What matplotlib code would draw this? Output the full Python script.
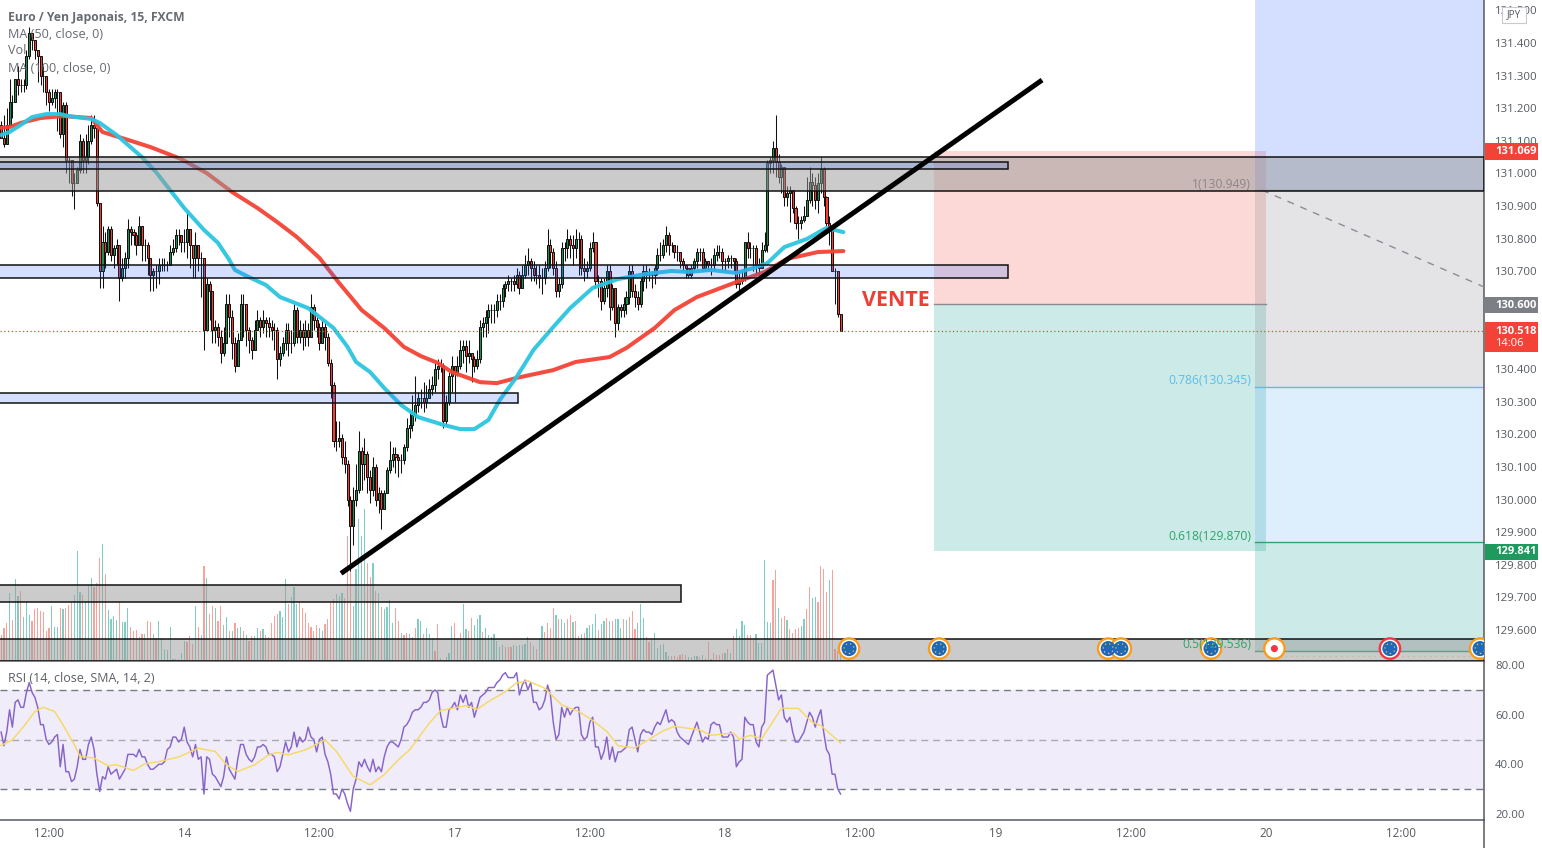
import matplotlib
matplotlib.use("Agg")
import matplotlib.pyplot as plt
from matplotlib.patches import Rectangle

plt.rcParams['font.family'] = ['Open Sans', 'Noto Sans', 'DejaVu Sans']

close_prices = [
 131.11,131.09,131.15,131.22,131.22,131.29,131.27,131.27,131.27,131.36,
 131.43,131.41,131.38,131.36,131.30,131.30,131.25,131.22,131.23,131.25,
 131.25,131.12,131.21,131.04,131.04,130.97,130.97,131.01,131.10,131.04,
 131.05,131.10,131.15,131.14,130.91,130.70,130.79,130.76,130.83,130.75,
 130.77,130.78,130.68,130.71,130.74,130.83,130.82,130.81,130.78,130.84,
 130.78,130.78,130.74,130.69,130.70,130.70,130.72,130.72,130.72,130.72,
 130.76,130.77,130.81,130.81,130.79,130.79,130.83,130.78,130.74,130.78,
 130.74,130.74,130.52,130.66,130.64,130.52,130.53,130.50,130.45,130.48,
 130.60,130.56,130.48,130.41,130.49,130.60,130.60,130.52,130.49,130.46,
 130.52,130.55,130.53,130.55,130.54,130.53,130.52,130.52,130.43,130.45,
 130.48,130.52,130.48,130.48,130.58,130.50,130.52,130.50,130.52,130.50,
 130.59,130.55,130.53,130.48,130.53,130.50,130.42,130.35,130.18,130.18,
 130.19,130.13,130.11,130.00,129.92,130.00,130.03,130.15,130.11,130.14,
 130.07,130.03,130.10,130.00,130.02,129.97,130.02,130.09,130.12,130.14,
 130.13,130.12,130.12,130.16,130.22,130.23,130.26,130.29,130.31,130.31,
 130.30,130.31,130.34,130.35,130.40,130.41,130.41,130.24,130.30,130.38,
 130.41,130.39,130.41,130.46,130.47,130.44,130.45,130.43,130.41,130.43,
 130.53,130.54,130.56,130.58,130.58,130.58,130.61,130.61,130.65,130.66,
 130.67,130.67,130.66,130.69,130.65,130.69,130.72,130.73,130.71,130.69,
 130.69,130.68,130.68,130.71,130.78,130.76,130.71,130.64,130.66,130.77,
 130.77,130.80,130.78,130.77,130.80,130.80,130.71,130.70,130.71,130.77,
 130.79,130.67,130.67,130.61,130.65,130.70,130.59,130.65,130.54,130.59,
 130.58,130.60,130.62,130.70,130.64,130.62,130.60,130.67,130.70,130.69,
 130.69,130.69,130.71,130.75,130.75,130.78,130.81,130.78,130.78,130.76,
 130.76,130.73,130.72,130.71,130.69,130.71,130.73,130.76,130.76,130.71,
 130.73,130.72,130.72,130.75,130.76,130.76,130.73,130.73,130.74,130.74,
 130.73,130.66,130.67,130.68,130.79,130.77,130.77,130.77,130.72,130.71,
 130.765,130.78,131.033,131.04,131.077,131.036,130.99,131.02,130.927,130.94,
 130.95,130.893,130.849,130.849,130.857,130.87,130.92,130.975,130.965,130.92,
 130.97,131.015,130.927,130.847,130.826,130.70,130.70,130.57,130.518]

high_prices = [
 131.16,131.18,131.20,131.29,131.24,131.29,131.33,131.29,131.29,131.38,
 131.45,131.43,131.39,131.37,131.31,131.33,131.28,131.26,131.26,131.26,
 131.26,131.25,131.22,131.22,131.05,131.04,131.00,131.02,131.12,131.11,
 131.12,131.15,131.18,131.18,131.14,130.91,130.84,130.82,130.84,130.84,
 130.78,130.80,130.78,130.74,130.76,130.86,130.84,130.83,130.82,130.87,
 130.84,130.80,130.79,130.74,130.71,130.72,130.74,130.74,130.74,130.73,
 130.78,130.80,130.83,130.83,130.81,130.83,130.88,130.83,130.78,130.82,
 130.78,130.76,130.73,130.68,130.67,130.64,130.55,130.54,130.52,130.53,
 130.63,130.63,130.58,130.50,130.51,130.63,130.63,130.60,130.53,130.50,
 130.55,130.58,130.56,130.58,130.56,130.56,130.55,130.54,130.53,130.47,
 130.50,130.54,130.54,130.52,130.60,130.59,130.55,130.54,130.55,130.54,
 130.63,130.60,130.56,130.54,130.55,130.54,130.51,130.43,130.36,130.24,
 130.24,130.20,130.18,130.12,130.01,130.04,130.11,130.21,130.16,130.19,
 130.15,130.09,130.13,130.11,130.04,130.03,130.03,130.10,130.18,130.16,
 130.16,130.14,130.14,130.17,130.25,130.27,130.32,130.38,130.33,130.34,
 130.36,130.35,130.37,130.38,130.42,130.43,130.43,130.42,130.32,130.39,
 130.44,130.41,130.44,130.49,130.49,130.49,130.49,130.45,130.44,130.46,
 130.55,130.56,130.58,130.60,130.60,130.60,130.63,130.63,130.66,130.67,
 130.69,130.68,130.69,130.71,130.70,130.72,130.75,130.77,130.74,130.73,
 130.72,130.72,130.71,130.73,130.83,130.80,130.77,130.73,130.68,130.79,
 130.79,130.83,130.81,130.81,130.83,130.82,130.81,130.74,130.73,130.79,
 130.82,130.79,130.69,130.68,130.68,130.72,130.72,130.66,130.65,130.60,
 130.60,130.62,130.64,130.72,130.72,130.66,130.64,130.68,130.72,130.72,
 130.71,130.70,130.72,130.77,130.79,130.80,130.84,130.82,130.79,130.78,
 130.78,130.76,130.74,130.72,130.71,130.72,130.74,130.77,130.77,130.77,
 130.74,130.73,130.74,130.77,130.78,130.78,130.77,130.74,130.75,130.75,
 130.74,130.74,130.70,130.70,130.79,130.82,130.79,130.78,130.78,130.74,
 130.79,130.82,131.04,131.05,131.10,131.18,131.06,131.03,131.02,130.96,
 130.96,130.95,130.90,130.87,130.87,130.90,130.99,131.02,131.00,130.99,
 131.00,131.05,131.02,130.93,130.87,130.84,130.71,130.70,130.57]

low_prices = [
 131.11,131.08,131.11,131.15,131.17,131.22,131.24,131.25,131.25,131.26,
 131.35,131.38,131.35,131.28,131.27,131.25,131.21,131.19,131.21,131.20,
 131.13,131.11,131.08,131.00,130.97,130.93,130.89,130.98,131.00,131.00,
 131.00,131.03,131.09,131.11,130.90,130.65,130.65,130.71,130.75,130.73,
 130.71,130.72,130.61,130.67,130.68,130.71,130.78,130.78,130.75,130.78,
 130.73,130.73,130.69,130.64,130.64,130.65,130.66,130.70,130.70,130.70,
 130.74,130.75,130.76,130.78,130.76,130.76,130.74,130.71,130.68,130.68,
 130.70,130.62,130.46,130.58,130.55,130.48,130.48,130.47,130.42,130.44,
 130.53,130.50,130.43,130.39,130.42,130.52,130.50,130.47,130.45,130.43,
 130.50,130.52,130.50,130.51,130.50,130.50,130.49,130.46,130.37,130.41,
 130.44,130.46,130.44,130.45,130.47,130.48,130.48,130.46,130.47,130.47,
 130.50,130.52,130.50,130.46,130.50,130.46,130.41,130.31,130.16,130.15,
 130.16,130.11,130.08,129.98,129.78,129.86,129.98,130.02,130.03,130.06,
 130.02,129.99,130.01,129.98,129.96,129.91,129.98,130.02,130.08,130.10,
 130.08,130.07,130.08,130.11,130.15,130.19,130.21,130.24,130.27,130.28,
 130.27,130.28,130.31,130.32,130.33,130.37,130.39,130.22,130.23,130.29,
 130.33,130.30,130.38,130.40,130.42,130.39,130.42,130.36,130.39,130.40,
 130.42,130.50,130.50,130.51,130.54,130.54,130.56,130.58,130.59,130.62,
 130.64,130.64,130.64,130.65,130.63,130.65,130.68,130.69,130.67,130.67,
 130.66,130.65,130.63,130.66,130.70,130.71,130.69,130.62,130.62,130.65,
 130.73,130.74,130.74,130.72,130.74,130.69,130.69,130.67,130.68,130.70,
 130.76,130.65,130.62,130.58,130.60,130.62,130.55,130.58,130.50,130.52,
 130.56,130.56,130.57,130.60,130.62,130.59,130.58,130.59,130.64,130.65,
 130.67,130.65,130.66,130.69,130.73,130.74,130.76,130.75,130.76,130.74,
 130.73,130.71,130.70,130.68,130.68,130.68,130.70,130.71,130.73,130.70,
 130.70,130.70,130.69,130.70,130.73,130.74,130.70,130.70,130.71,130.71,
 130.70,130.65,130.63,130.66,130.67,130.74,130.74,130.70,130.69,130.69,
 130.72,130.76,130.76,131.00,131.00,130.99,130.97,130.94,130.90,130.90,
 130.85,130.88,130.83,130.80,130.83,130.85,130.87,130.91,130.90,130.89,
 130.88,130.94,130.90,130.84,130.78,130.70,130.60,130.56,130.518]

volumes = [
 26,33,38,68,41,82,65,70,44,59, 46,40,52,53,50,49,30,33,55,34, 34,53,52,53,56,59,66,110,69,66,
 60,76,83,74,78,103,117,87,51,42, 45,41,59,39,39,53,34,30,31,24, 27,27,40,39,27,23,40,23,12,11,
 34,2,2,2,8,20,19,25,17,55, 34,26,95,83,47,55,53,40,55,36, 44,30,30,38,33,34,30,26,20,25,
 25,33,30,32,26,24,38,45,47,50, 44,82,57,64,74,57,59,53,48,38, 34,30,36,33,30,37,42,58,62,67,
 65,68,63,125,115,55,92,142,125,152, 98,84,98,70,68,54,52,54,61,38, 53,40,28,26,28,27,24,33,42,40,
 27,33,27,23,10,37,3,1,4,8, 35,38,23,28,57,32,30,43,36,42, 46,29,33,26,24,27,20,14,16,14,
 14,14,16,15,16,16,17,24,19,15, 12,23,35,29,38,33,53,46,42,42, 38,42,46,39,40,25,27,28,33,36,
 37,47,31,37,40,43,40,40,42,42, 33,42,41,44,50,32,38,57,43,24, 19,21,28,13,16,17,9,5,5,5,
 4,6,7,6,4,4,5,5,4,6, 3,19,2,8,6,6,8,8,12,8, 25,32,25,40,36,26,26,21,27,18,
 18,101,39,38,81,91,53,43,45,41, 32,28,32,33,35,42,52,74,63,64, 59,95,92,69,81,91,12,10,8]
volume_side = (
 "rrrgrggrgg" "grrrrrrrgg" "grgrrrgggr"
 "gggrrrgrgg" "ggrgggrrrg" "rgrrgrgggg"
 "gggrggrrrg" "rgrgrrgrrg" "grgrggrgrr"
 "ggrgrrrrrg" "ggrgggrrrr" "rrrggrrrrg"
 "ggrrrggggg" "rrgrgrggg" "g" "rrgrrgrrgg"
 "rgggrrgrgg" "grgrggrrgg" "grgggggggr"
 "rrggggggrg" "rggrrrrgrg" "grrgrrgrgg"
 "ggrggrgrgg" "grgrrrgggr" "rgggggggrr"
 "rrrrggggrg" "rrgrrrrgrg" "rggggrrrg" "g"
 "ggggrrgrrg" "rrrrggrrgg" "rrrrgrrrg")

rsi_values = [
 53,47.5,53,62,55,65,66,63,63,69, 73,69,67,63,56,56,50,48,49,51, 52,39,48,37,37,33,34,39,46,42,
 42,48,51,46,36,29,35,34,39,36, 37,38,34,36,38,44,44,44,43,46, 43,43,40,38,38,39,40,40,41,46,
 47,51,51,49,50,55,49,47,43,48, 42,43,28,43,42,36,35,33,31,35, 43,38,36,34,42,48,48,44,42,41,
 43,47,47,48,47,44,44,43,37,39, 44,49,45,47,53,47,51,49,50,55, 51,50,45,50,51,44,41,36,28,28,
 26,30,28,24,21,30,34,41,39,42, 39,37,42,37,39,37,43,47,49,49, 48,47,50,55,56,58,61,62,62,63,
 65,65,66,69,70,69,60,55,55,62, 63,65,62,68,65,68,63,65,59,63, 67,68,69,71,71,71,73,74,76,77,
 75,75,75,77,68,72,74,70,73,65, 65,62,63,66,72,68,57,50,52,63, 59,63,60,62,63,63,52,50,51,57,
 59,47,47,42,45,51,42,47,41,45, 45,46,47,54,55,50,45,52,54,53, 53,52,55,57,56,59,62,57,58,57,
 53,51,50,49,48,51,54,57,53,49, 51,50,56,57,56,56,51,51,51,53, 51,39,41,42,59,57,56,56,49,47,
 55,57,76,77,78,72,66,68,59,57, 59,53,49,49,51,53,57,61,59,55, 59,62,53,46,44,36,36,30,28]

rsi_ma_bars = [0,4,8,12,15,19,22,26,28,33,38,41,47,51,56,63,70,76,80,84,90,95,98,102,108,115,119,125,131,136,141,145,
               152,156,165,169,173,179,183,187,193,199,205,210,215,219,225,235,239,248,252,260,262,266,270,277,283,288,291,298]
rsi_ma_values = [47.6,49.9,55.2,61.3,63,61.3,55.9,47.9,43.2,42.5,39.4,39.8,37.5,40.2,41.1,42.9,46.5,45.2,39.8,37.1,39.8,43.8,44.8,43.8,45.8,49.9,45.2,35.1,31.7,35.8,41.8,45.8,
                 56.6,61.7,63.7,62.2,65.3,69.3,72.9,73.7,70.7,64,61.3,57.7,53.3,47.5,46.6,53.5,55.3,53.9,51.7,52.6,50.2,51.7,50.3,62.6,62.6,56.9,55.7,48.6]

ma50_bars = [0,3,7,11,16,21,24,32,35,41,50,55,60,65,72,77,81,83,88,94,99,109,113,118,123,126,131,136,142,148,
             157,163,168,173,177,183,189,196,202,210,219,229,238,244,252,261,267,272,278,286,293,299]
ma50_values = [131.118,131.127,131.149,131.173,131.182,131.182,131.176,131.167,131.155,131.118,131.05,131.004,130.949,130.894,130.827,130.787,130.735,130.704,130.682,130.658,130.621,130.587,130.56,130.526,130.468,130.422,130.391,130.342,130.29,130.253,
               130.229,130.216,130.216,130.244,130.305,130.376,130.459,130.529,130.587,130.649,130.676,130.692,130.701,130.698,130.704,130.695,130.71,130.725,130.774,130.799,130.833,130.82]
ma100_bars = [0,3,7,14,22,32,36,45,53,64,73,82,91,98,105,113,120,128,136,143,149,155,160,170,176,183,196,204,216,222,232,239,247,261,271,279,290,299]
ma100_values = [131.14,131.142,131.155,131.17,131.176,131.17,131.127,131.103,131.081,131.044,131.001,130.943,130.894,130.851,130.805,130.741,130.664,130.581,130.526,130.468,130.44,130.419,130.391,130.36,130.357,130.373,130.397,130.422,130.437,130.465,130.526,130.581,130.621,130.667,130.698,130.738,130.759,130.762]

trend_bars = [121.4, 368.8]
trend_prices = [129.778, 131.282]
grey_zones = [(131.05,130.946,526.4),(129.738,129.686,241.4),(129.572,129.5049,526.4)]
blue_zones = [(131.034,131.013,357.4),(130.719,130.679,357.4),(130.327,130.296,183.5)]
fib_prices = [130.949,130.345,129.870,129.536]
fib_labels = ['1(130.949)','0.786(130.345)','0.618(129.870)','0.5(129.536)']
position_prices = [131.069,130.600,129.841]
last_price = 130.518
event_bars = [301,333,393,397.5,429.5,452,493,525]
event_price = 129.543
price_ticks = [131.5,131.4,131.3,131.2,131.1,131.0,130.9,130.8,130.7,130.4,130.3,130.2,130.1,130.0,129.9,129.8,129.7,129.6]
rsi_ticks = [80,60,40,20]
time_ticks = [17,65,113,161,209,257,305,353,401,449,497]
time_labels = ['12:00','14','12:00','17','12:00','18','12:00','19','12:00','20','12:00']

W,H = 1542,848
GREY = '#555a60'
def P(x,y): return x/W, 1-y/H
def box(x0,y0,x1,y1): return [x0/W, 1-y1/H, (x1-x0)/W, (y1-y0)/H]

fig = plt.figure(figsize=(W/100,H/100),dpi=100,facecolor='white')
xlim = (-0.39,526.4)
ax_vol = fig.add_axes(box(0,0,1484,661),zorder=0)
ax = fig.add_axes(box(0,0,1484,661),zorder=1)
ax_rsi = fig.add_axes(box(0,662,1484,820),zorder=1)
ax.patch.set_alpha(0)

# volume
ax_vol.set_xlim(xlim); ax_vol.set_ylim(0,661); ax_vol.axis('off')
vbars = list(range(len(volumes)))
vcol = ['#7fcdc3' if (volume_side[i] if i<len(volume_side) else 'r')=='g' else '#f9a19a' for i in vbars]
ax_vol.bar(vbars,volumes,width=0.42,color=vcol,linewidth=0)

# candles
n = len(close_prices)
bars = list(range(n))
open_prices = [close_prices[0]+0.04]+close_prices[:-1]
ax.set_xlim(xlim); ax.set_ylim(129.5049,131.5319)
ax.vlines(bars,low_prices,high_prices,color='#111111',lw=0.75,zorder=3)
bot = [min(o,c) for o,c in zip(open_prices,close_prices)]
hgt = [abs(o-c) for o,c in zip(open_prices,close_prices)]
col = ['#1c8f50' if c>=o else '#fb3b30' for o,c in zip(open_prices,close_prices)]
ax.bar(bars,hgt,bottom=bot,width=0.72,color=col,edgecolor='#111111',linewidth=0.72,zorder=3.2)

# moving averages
ax.plot(ma100_bars,ma100_values,color='#f44336',lw=2.9,zorder=4,solid_capstyle='round',alpha=.95)
ax.plot(ma50_bars,ma50_values,color='#2cc5e0',lw=2.9,zorder=4.1,solid_capstyle='round',alpha=.95)
ax.plot(trend_bars,trend_prices,color='black',lw=3.6,zorder=6)

# last price
ax.axhline(last_price,color='#f44336',lw=0.9,ls=(0,(1,2)),zorder=5)

# position tool
px0,px1 = 331.2,449
ax.add_patch(Rectangle((px0,position_prices[1]),px1-px0,position_prices[0]-position_prices[1],fc=(244/255,67/255,54/255,.2),ec='none',zorder=2))
ax.add_patch(Rectangle((px0,position_prices[2]),px1-px0,position_prices[1]-position_prices[2],fc=(0,150/255,136/255,.2),ec='none',zorder=2))
ax.plot([px0,px1],[position_prices[1]]*2,color='#8a8a90',lw=1,zorder=2.5)

# fib tool
fx0,fx1 = 445.1,526.4
top = 131.5319
fib_bands = [(fib_prices[0],top,(41/255,98/255,1,.2)),
             (fib_prices[1],fib_prices[0],(120/255,123/255,134/255,.2)),
             (fib_prices[2],fib_prices[1],(33/255,150/255,243/255,.15)),
             (fib_prices[3],fib_prices[2],(0,150/255,136/255,.2))]
for lo,hi,c in fib_bands:
    ax.add_patch(Rectangle((fx0,lo),fx1-fx0,hi-lo,fc=c,ec='none',zorder=2))
fib_cols = ['#8a8d96','#5cbde8','#2ea56a','#2ea56a']
for p,c in zip(fib_prices,fib_cols):
    ax.plot([fx0,fx1],[p,p],color=c,lw=1,zorder=2.5)
ax.plot([447.6,526.4],[130.949,130.652],color='#8a8d96',lw=1,ls=(0,(5,5)),zorder=2.6)
ax.plot([452,526.4],[129.52,129.52],color='#f5dc78',lw=1,ls=(0,(1,3)),zorder=2.6)

# zones
for hi,lo,x1 in grey_zones:
    ax.add_patch(Rectangle((xlim[0]-1,lo),x1-xlim[0]+1,hi-lo,fc=(.6,.6,.6,.5),ec='#111111',lw=1.1,zorder=5))
for hi,lo,x1 in blue_zones:
    ax.add_patch(Rectangle((xlim[0]-1,lo),x1-xlim[0]+1,hi-lo,fc=(41/255,98/255,1,.2),ec='#111111',lw=1.1,zorder=5))

# event icons
ey = [event_price]*len(event_bars)
edge = ['#fb9b1c']*len(event_bars)
edge[6] = '#f23645'
ax.scatter(event_bars,ey,s=215,fc='white',ec=edge,lw=1.7,zorder=7)
eu = [b for i,b in enumerate(event_bars) if i!=5]
ax.scatter(eu,[event_price]*len(eu),s=118,fc='#1d68b8',ec='none',zorder=7.1)
ax.scatter(eu,[event_price]*len(eu),s=50,fc='none',ec='#f7c948',lw=.9,ls=(0,(1,2.5)),zorder=7.2)
ax.scatter([event_bars[5]],[event_price],s=26,fc='#f23645',ec='none',zorder=7.1)

# axes formatting
ax.yaxis.tick_right(); ax.xaxis.set_visible(False)
ax.set_yticks(price_ticks,[f'{v:.3f}' for v in price_ticks])
ax.tick_params(axis='y',length=0,pad=7.9,labelsize=8.2,labelcolor=GREY)
for s in ('left','top'): ax.spines[s].set_visible(False)
for s in ('right','bottom'):
    ax.spines[s].set_color('#555a60'); ax.spines[s].set_linewidth(1.1)

# texts
for x,y,t,kw in [(8,17,'Euro / Yen Japonais, 15, FXCM',dict(weight='bold',fontsize=8.7)),
                 (8,34,'MA (50, close, 0)',dict(fontsize=9.1)),(8,51,'Vol',dict(fontsize=9.1)),(8,68,'MA (100, close, 0)',dict(fontsize=9.1))]:
    fig.text(*P(x,y),t,color='#5a5f66',va='center',ha='left',alpha=.92,zorder=9,**kw)
fig.text(*P(862,300),'VENTE',color='#ef3e36',fontsize=15.5,weight='bold',va='center',ha='left',zorder=9)
for lab,p,c in zip(fib_labels,[184,381,536,644],fib_cols):
    fig.text(*P(1251,p),lab,color=c if lab[0]!='1' else '#8d8589',fontsize=8.7,ha='right',va='center',zorder=3)

# price tags
for (y0,y1,c,t) in [(143,160,'#f44336','131.069'),(297,313,'#7d7f86','130.600'),(544,560,'#1f9a5f','129.841')]:
    fig.add_artist(Rectangle(P(1485,y1),53/W,(y1-y0)/H,transform=fig.transFigure,fc=c,ec='none',zorder=5))
    fig.text(*P(1495,(y0+y1)/2),t,color='white',fontsize=8.0,weight='bold',va='center',ha='left',zorder=6)
fig.add_artist(Rectangle(P(1485,352),53/W,30/H,transform=fig.transFigure,fc='#f44336',ec='none',zorder=5))
fig.text(*P(1495,331),'130.518',color='white',fontsize=8.0,weight='bold',va='center',ha='left',zorder=6)
fig.text(*P(1495,344),'14:06',color='white',fontsize=8.0,va='center',ha='left',zorder=6)
fig.add_artist(Rectangle(P(1502,23),24/W,16/H,transform=fig.transFigure,fc='white',ec='#c8cad0',lw=.8,zorder=5))
fig.text(*P(1514,15),'JPY',color=GREY,fontsize=7.2,va='center',ha='center',zorder=6)

# RSI panel
ax_rsi.set_xlim(xlim); ax_rsi.set_ylim(17.5,81.3)
ax_rsi.axhspan(30,70,color='#f0ecf9',lw=0,zorder=1)
for v,c in [(70,'#787b86'),(50,'#a8aab2'),(30,'#787b86')]:
    ax_rsi.axhline(v,color=c,lw=1,ls=(0,(5,3.5)),zorder=2)
ax_rsi.plot(range(len(rsi_values)),rsi_values,color='#8664c8',lw=1.05,zorder=3)
ax_rsi.plot(rsi_ma_bars,rsi_ma_values,color='#f6d966',lw=1.05,zorder=3.1)
ax_rsi.yaxis.tick_right()
ax_rsi.set_yticks(rsi_ticks,[f'{v:.2f}' for v in rsi_ticks])
ax_rsi.tick_params(axis='y',length=0,pad=7.9,labelsize=8.2,labelcolor=GREY)
ax_rsi.set_xticks(time_ticks,time_labels)
ax_rsi.tick_params(axis='x',length=0,pad=5.0,labelsize=8.4,labelcolor=GREY)
for s in ('left','top'): ax_rsi.spines[s].set_visible(False)
for s in ('right','bottom'):
    ax_rsi.spines[s].set_color('#555a60'); ax_rsi.spines[s].set_linewidth(1.1)
fig.text(*P(8,678.5),'RSI (14, close, SMA, 14, 2)',color='#5a5f66',fontsize=9.0,va='center',ha='left',zorder=9)
fig.add_artist(plt.Line2D([1484/W,1484/W],[0,1-820/H],transform=fig.transFigure,color='#555a60',lw=1.1))

fig.savefig('out.png',dpi=100)
